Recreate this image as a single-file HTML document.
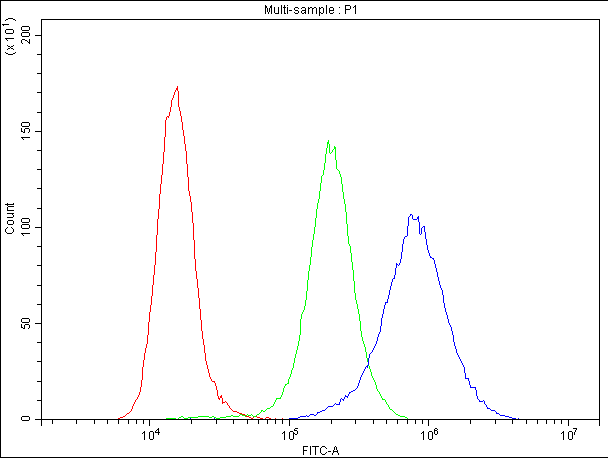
<!DOCTYPE html>
<html><head><meta charset="utf-8"><style>
html,body{margin:0;padding:0;background:#fff;width:608px;height:458px;overflow:hidden}
svg{position:absolute;left:0;top:0;display:block}
</style></head><body>
<svg width="608" height="458" viewBox="0 0 608 458">
<g shape-rendering="crispEdges">
<path fill="#ff0000" d="M177 86h1v1h-1zM177 87h1v1h-1zM176 88h2v1h-2zM176 89h2v1h-2zM175 90h1v1h-1zM177 90h1v1h-1zM175 91h1v1h-1zM178 91h1v1h-1zM174 92h1v1h-1zM178 92h1v1h-1zM174 93h1v1h-1zM178 93h1v1h-1zM174 94h1v1h-1zM178 94h1v1h-1zM173 95h1v1h-1zM178 95h1v1h-1zM173 96h1v1h-1zM178 96h1v1h-1zM173 97h1v1h-1zM178 97h1v1h-1zM172 98h1v1h-1zM178 98h1v1h-1zM172 99h1v1h-1zM178 99h1v1h-1zM171 100h1v1h-1zM178 100h1v1h-1zM171 101h1v1h-1zM178 101h1v1h-1zM171 102h1v1h-1zM178 102h1v1h-1zM171 103h1v1h-1zM178 103h1v1h-1zM171 104h1v1h-1zM178 104h1v1h-1zM171 105h1v1h-1zM178 105h1v1h-1zM171 106h1v1h-1zM178 106h1v1h-1zM170 107h1v1h-1zM179 107h1v1h-1zM170 108h1v1h-1zM179 108h1v1h-1zM170 109h1v1h-1zM179 109h1v1h-1zM170 110h1v1h-1zM179 110h1v1h-1zM170 111h1v1h-1zM180 111h1v1h-1zM169 112h1v1h-1zM180 112h1v1h-1zM169 113h1v1h-1zM180 113h1v1h-1zM169 114h1v1h-1zM180 114h1v1h-1zM169 115h1v1h-1zM180 115h1v1h-1zM167 116h2v1h-2zM181 116h1v1h-1zM166 117h1v1h-1zM168 117h1v1h-1zM181 117h1v1h-1zM166 118h1v1h-1zM181 118h1v1h-1zM166 119h1v1h-1zM181 119h1v1h-1zM165 120h1v1h-1zM181 120h1v1h-1zM165 121h1v1h-1zM181 121h1v1h-1zM165 122h1v1h-1zM182 122h1v1h-1zM165 123h1v1h-1zM182 123h1v1h-1zM165 124h1v1h-1zM182 124h1v1h-1zM165 125h1v1h-1zM182 125h1v1h-1zM165 126h1v1h-1zM182 126h1v1h-1zM165 127h1v1h-1zM182 127h1v1h-1zM165 128h1v1h-1zM182 128h1v1h-1zM165 129h1v1h-1zM182 129h1v1h-1zM165 130h1v1h-1zM183 130h1v1h-1zM165 131h1v1h-1zM183 131h1v1h-1zM165 132h1v1h-1zM183 132h1v1h-1zM165 133h1v1h-1zM183 133h1v1h-1zM165 134h1v1h-1zM183 134h1v1h-1zM165 135h1v1h-1zM183 135h1v1h-1zM165 136h1v1h-1zM184 136h1v1h-1zM164 137h1v1h-1zM184 137h1v1h-1zM164 138h1v1h-1zM184 138h1v1h-1zM164 139h1v1h-1zM184 139h1v1h-1zM164 140h1v1h-1zM184 140h1v1h-1zM164 141h1v1h-1zM184 141h1v1h-1zM164 142h1v1h-1zM184 142h1v1h-1zM164 143h1v1h-1zM184 143h1v1h-1zM164 144h1v1h-1zM185 144h1v1h-1zM164 145h1v1h-1zM185 145h1v1h-1zM164 146h1v1h-1zM185 146h1v1h-1zM164 147h1v1h-1zM185 147h1v1h-1zM164 148h1v1h-1zM185 148h1v1h-1zM164 149h1v1h-1zM185 149h1v1h-1zM164 150h1v1h-1zM185 150h1v1h-1zM164 151h1v1h-1zM186 151h1v1h-1zM163 152h1v1h-1zM186 152h1v1h-1zM163 153h1v1h-1zM186 153h1v1h-1zM163 154h1v1h-1zM186 154h1v1h-1zM163 155h1v1h-1zM186 155h1v1h-1zM163 156h1v1h-1zM186 156h1v1h-1zM163 157h1v1h-1zM186 157h1v1h-1zM163 158h1v1h-1zM186 158h1v1h-1zM163 159h1v1h-1zM186 159h1v1h-1zM163 160h1v1h-1zM186 160h1v1h-1zM163 161h1v1h-1zM186 161h1v1h-1zM163 162h1v1h-1zM186 162h1v1h-1zM163 163h1v1h-1zM186 163h1v1h-1zM162 164h1v1h-1zM187 164h1v1h-1zM162 165h1v1h-1zM187 165h1v1h-1zM162 166h1v1h-1zM187 166h1v1h-1zM162 167h1v1h-1zM187 167h1v1h-1zM162 168h1v1h-1zM187 168h1v1h-1zM162 169h1v1h-1zM187 169h1v1h-1zM162 170h1v1h-1zM187 170h1v1h-1zM162 171h1v1h-1zM187 171h1v1h-1zM162 172h1v1h-1zM187 172h1v1h-1zM162 173h1v1h-1zM187 173h1v1h-1zM162 174h1v1h-1zM187 174h1v1h-1zM161 175h1v1h-1zM187 175h1v1h-1zM161 176h1v1h-1zM187 176h1v1h-1zM161 177h1v1h-1zM188 177h1v1h-1zM161 178h1v1h-1zM188 178h1v1h-1zM161 179h1v1h-1zM188 179h1v1h-1zM161 180h1v1h-1zM188 180h1v1h-1zM161 181h1v1h-1zM188 181h1v1h-1zM161 182h1v1h-1zM188 182h1v1h-1zM161 183h1v1h-1zM188 183h1v1h-1zM160 184h1v1h-1zM188 184h1v1h-1zM160 185h1v1h-1zM188 185h1v1h-1zM160 186h1v1h-1zM188 186h1v1h-1zM160 187h1v1h-1zM188 187h1v1h-1zM160 188h1v1h-1zM188 188h1v1h-1zM160 189h1v1h-1zM188 189h1v1h-1zM160 190h1v1h-1zM188 190h1v1h-1zM160 191h1v1h-1zM189 191h1v1h-1zM160 192h1v1h-1zM189 192h1v1h-1zM160 193h1v1h-1zM189 193h1v1h-1zM159 194h1v1h-1zM189 194h1v1h-1zM159 195h1v1h-1zM189 195h1v1h-1zM159 196h1v1h-1zM190 196h1v1h-1zM159 197h1v1h-1zM190 197h1v1h-1zM159 198h1v1h-1zM190 198h1v1h-1zM159 199h1v1h-1zM190 199h1v1h-1zM159 200h1v1h-1zM190 200h1v1h-1zM159 201h1v1h-1zM190 201h1v1h-1zM159 202h1v1h-1zM191 202h1v1h-1zM159 203h1v1h-1zM191 203h1v1h-1zM159 204h1v1h-1zM191 204h1v1h-1zM159 205h1v1h-1zM191 205h1v1h-1zM159 206h1v1h-1zM191 206h1v1h-1zM159 207h1v1h-1zM191 207h1v1h-1zM159 208h1v1h-1zM191 208h1v1h-1zM158 209h1v1h-1zM191 209h1v1h-1zM158 210h1v1h-1zM191 210h1v1h-1zM158 211h1v1h-1zM191 211h1v1h-1zM158 212h1v1h-1zM192 212h1v1h-1zM158 213h1v1h-1zM192 213h1v1h-1zM158 214h1v1h-1zM192 214h1v1h-1zM158 215h1v1h-1zM192 215h1v1h-1zM158 216h1v1h-1zM192 216h1v1h-1zM158 217h1v1h-1zM192 217h1v1h-1zM158 218h1v1h-1zM192 218h1v1h-1zM157 219h1v1h-1zM192 219h1v1h-1zM157 220h1v1h-1zM192 220h1v1h-1zM157 221h1v1h-1zM192 221h1v1h-1zM157 222h1v1h-1zM192 222h1v1h-1zM157 223h1v1h-1zM193 223h1v1h-1zM157 224h1v1h-1zM193 224h1v1h-1zM157 225h1v1h-1zM193 225h1v1h-1zM157 226h1v1h-1zM193 226h1v1h-1zM157 227h1v1h-1zM193 227h1v1h-1zM157 228h1v1h-1zM193 228h1v1h-1zM157 229h1v1h-1zM193 229h1v1h-1zM157 230h1v1h-1zM193 230h1v1h-1zM157 231h1v1h-1zM193 231h1v1h-1zM157 232h1v1h-1zM193 232h1v1h-1zM157 233h1v1h-1zM193 233h1v1h-1zM157 234h1v1h-1zM193 234h1v1h-1zM156 235h1v1h-1zM193 235h1v1h-1zM156 236h1v1h-1zM193 236h1v1h-1zM156 237h1v1h-1zM193 237h1v1h-1zM156 238h1v1h-1zM193 238h1v1h-1zM156 239h1v1h-1zM193 239h1v1h-1zM156 240h1v1h-1zM194 240h1v1h-1zM156 241h1v1h-1zM194 241h1v1h-1zM156 242h1v1h-1zM194 242h1v1h-1zM156 243h1v1h-1zM194 243h1v1h-1zM156 244h1v1h-1zM194 244h1v1h-1zM156 245h1v1h-1zM194 245h1v1h-1zM156 246h1v1h-1zM194 246h1v1h-1zM156 247h1v1h-1zM194 247h1v1h-1zM156 248h1v1h-1zM194 248h1v1h-1zM156 249h1v1h-1zM194 249h1v1h-1zM156 250h1v1h-1zM194 250h1v1h-1zM156 251h1v1h-1zM194 251h1v1h-1zM155 252h1v1h-1zM194 252h1v1h-1zM155 253h1v1h-1zM194 253h1v1h-1zM155 254h1v1h-1zM194 254h1v1h-1zM155 255h1v1h-1zM194 255h1v1h-1zM155 256h1v1h-1zM194 256h1v1h-1zM155 257h1v1h-1zM194 257h1v1h-1zM155 258h1v1h-1zM194 258h1v1h-1zM155 259h1v1h-1zM195 259h1v1h-1zM155 260h1v1h-1zM195 260h1v1h-1zM155 261h1v1h-1zM195 261h1v1h-1zM155 262h1v1h-1zM195 262h1v1h-1zM155 263h1v1h-1zM195 263h1v1h-1zM155 264h1v1h-1zM195 264h1v1h-1zM154 265h1v1h-1zM195 265h1v1h-1zM154 266h1v1h-1zM195 266h1v1h-1zM154 267h1v1h-1zM195 267h1v1h-1zM154 268h1v1h-1zM195 268h1v1h-1zM154 269h1v1h-1zM195 269h1v1h-1zM154 270h1v1h-1zM195 270h1v1h-1zM154 271h1v1h-1zM196 271h1v1h-1zM154 272h1v1h-1zM196 272h1v1h-1zM154 273h1v1h-1zM196 273h1v1h-1zM154 274h1v1h-1zM196 274h1v1h-1zM153 275h1v1h-1zM196 275h1v1h-1zM153 276h1v1h-1zM196 276h1v1h-1zM153 277h1v1h-1zM196 277h1v1h-1zM153 278h1v1h-1zM196 278h1v1h-1zM153 279h1v1h-1zM197 279h1v1h-1zM153 280h1v1h-1zM197 280h1v1h-1zM153 281h1v1h-1zM197 281h1v1h-1zM153 282h1v1h-1zM197 282h1v1h-1zM153 283h1v1h-1zM197 283h1v1h-1zM153 284h1v1h-1zM197 284h1v1h-1zM152 285h1v1h-1zM197 285h1v1h-1zM152 286h1v1h-1zM197 286h1v1h-1zM152 287h1v1h-1zM197 287h1v1h-1zM152 288h1v1h-1zM198 288h1v1h-1zM152 289h1v1h-1zM198 289h1v1h-1zM152 290h1v1h-1zM198 290h1v1h-1zM152 291h1v1h-1zM198 291h1v1h-1zM152 292h1v1h-1zM198 292h1v1h-1zM152 293h1v1h-1zM198 293h1v1h-1zM152 294h1v1h-1zM198 294h1v1h-1zM152 295h1v1h-1zM198 295h1v1h-1zM151 296h1v1h-1zM198 296h1v1h-1zM151 297h1v1h-1zM198 297h1v1h-1zM151 298h1v1h-1zM199 298h1v1h-1zM151 299h1v1h-1zM199 299h1v1h-1zM151 300h1v1h-1zM199 300h1v1h-1zM151 301h1v1h-1zM199 301h1v1h-1zM151 302h1v1h-1zM199 302h1v1h-1zM151 303h1v1h-1zM199 303h1v1h-1zM151 304h1v1h-1zM199 304h1v1h-1zM150 305h1v1h-1zM199 305h1v1h-1zM150 306h1v1h-1zM199 306h1v1h-1zM150 307h1v1h-1zM199 307h1v1h-1zM150 308h1v1h-1zM199 308h1v1h-1zM150 309h1v1h-1zM200 309h1v1h-1zM150 310h1v1h-1zM200 310h1v1h-1zM150 311h1v1h-1zM200 311h1v1h-1zM149 312h1v1h-1zM200 312h1v1h-1zM149 313h1v1h-1zM200 313h1v1h-1zM149 314h1v1h-1zM200 314h1v1h-1zM149 315h1v1h-1zM200 315h1v1h-1zM149 316h1v1h-1zM200 316h1v1h-1zM149 317h1v1h-1zM200 317h1v1h-1zM149 318h1v1h-1zM200 318h1v1h-1zM149 319h1v1h-1zM200 319h1v1h-1zM149 320h1v1h-1zM201 320h1v1h-1zM149 321h1v1h-1zM201 321h1v1h-1zM148 322h1v1h-1zM201 322h1v1h-1zM148 323h1v1h-1zM201 323h1v1h-1zM148 324h1v1h-1zM201 324h1v1h-1zM148 325h1v1h-1zM201 325h1v1h-1zM148 326h1v1h-1zM201 326h1v1h-1zM148 327h1v1h-1zM201 327h1v1h-1zM148 328h1v1h-1zM201 328h1v1h-1zM148 329h1v1h-1zM201 329h1v1h-1zM148 330h1v1h-1zM201 330h1v1h-1zM148 331h1v1h-1zM202 331h1v1h-1zM148 332h1v1h-1zM202 332h1v1h-1zM148 333h1v1h-1zM202 333h1v1h-1zM148 334h1v1h-1zM202 334h1v1h-1zM147 335h1v1h-1zM202 335h1v1h-1zM147 336h1v1h-1zM202 336h1v1h-1zM147 337h1v1h-1zM202 337h1v1h-1zM147 338h1v1h-1zM202 338h1v1h-1zM147 339h1v1h-1zM203 339h1v1h-1zM147 340h1v1h-1zM203 340h1v1h-1zM147 341h1v1h-1zM203 341h1v1h-1zM147 342h1v1h-1zM203 342h1v1h-1zM147 343h1v1h-1zM203 343h1v1h-1zM146 344h1v1h-1zM203 344h1v1h-1zM146 345h1v1h-1zM204 345h1v1h-1zM146 346h1v1h-1zM204 346h1v1h-1zM146 347h1v1h-1zM204 347h1v1h-1zM145 348h1v1h-1zM204 348h1v1h-1zM145 349h1v1h-1zM204 349h1v1h-1zM145 350h1v1h-1zM204 350h1v1h-1zM145 351h1v1h-1zM204 351h1v1h-1zM145 352h1v1h-1zM204 352h1v1h-1zM144 353h1v1h-1zM205 353h1v1h-1zM144 354h1v1h-1zM205 354h1v1h-1zM144 355h1v1h-1zM205 355h1v1h-1zM144 356h1v1h-1zM205 356h1v1h-1zM144 357h1v1h-1zM205 357h1v1h-1zM144 358h1v1h-1zM205 358h1v1h-1zM144 359h1v1h-1zM205 359h1v1h-1zM143 360h1v1h-1zM205 360h1v1h-1zM143 361h1v1h-1zM206 361h1v1h-1zM143 362h1v1h-1zM206 362h1v1h-1zM143 363h1v1h-1zM206 363h1v1h-1zM143 364h1v1h-1zM206 364h1v1h-1zM143 365h1v1h-1zM207 365h1v1h-1zM143 366h1v1h-1zM207 366h1v1h-1zM142 367h1v1h-1zM207 367h1v1h-1zM142 368h1v1h-1zM207 368h1v1h-1zM142 369h1v1h-1zM208 369h1v1h-1zM142 370h1v1h-1zM208 370h1v1h-1zM142 371h1v1h-1zM208 371h1v1h-1zM142 372h1v1h-1zM208 372h1v1h-1zM142 373h1v1h-1zM209 373h1v1h-1zM142 374h1v1h-1zM209 374h1v1h-1zM142 375h1v1h-1zM209 375h1v1h-1zM142 376h1v1h-1zM209 376h1v1h-1zM142 377h1v1h-1zM210 377h1v1h-1zM142 378h1v1h-1zM210 378h1v1h-1zM142 379h1v1h-1zM211 379h1v1h-1zM141 380h1v1h-1zM211 380h1v1h-1zM141 381h1v1h-1zM212 381h3v1h-3zM141 382h1v1h-1zM214 382h1v1h-1zM141 383h1v1h-1zM215 383h1v1h-1zM141 384h1v1h-1zM215 384h1v1h-1zM141 385h1v1h-1zM215 385h1v1h-1zM141 386h1v1h-1zM216 386h1v1h-1zM140 387h1v1h-1zM216 387h1v1h-1zM140 388h1v1h-1zM216 388h1v1h-1zM140 389h1v1h-1zM216 389h1v1h-1zM140 390h1v1h-1zM217 390h1v1h-1zM140 391h1v1h-1zM217 391h1v1h-1zM139 392h1v1h-1zM217 392h1v1h-1zM139 393h1v1h-1zM217 393h1v1h-1zM139 394h1v1h-1zM217 394h1v1h-1zM138 395h1v1h-1zM217 395h1v1h-1zM221 395h1v1h-1zM138 396h1v1h-1zM218 396h1v1h-1zM220 396h2v1h-2zM137 397h1v1h-1zM218 397h1v1h-1zM220 397h2v1h-2zM137 398h1v1h-1zM218 398h2v1h-2zM222 398h1v1h-1zM136 399h1v1h-1zM219 399h1v1h-1zM222 399h1v1h-1zM135 400h1v1h-1zM222 400h1v1h-1zM135 401h1v1h-1zM222 401h1v1h-1zM225 401h1v1h-1zM134 402h1v1h-1zM222 402h3v1h-3zM226 402h1v1h-1zM134 403h1v1h-1zM222 403h1v1h-1zM227 403h1v1h-1zM133 404h1v1h-1zM227 404h1v1h-1zM133 405h1v1h-1zM228 405h1v1h-1zM132 406h1v1h-1zM229 406h1v1h-1zM132 407h1v1h-1zM229 407h1v1h-1zM132 408h1v1h-1zM230 408h1v1h-1zM131 409h1v1h-1zM231 409h1v1h-1zM131 410h1v1h-1zM232 410h1v1h-1zM130 411h1v1h-1zM233 411h4v1h-4zM129 412h1v1h-1zM237 412h2v1h-2zM127 413h2v1h-2zM239 413h3v1h-3zM126 414h1v1h-1zM242 414h3v1h-3zM125 415h1v1h-1zM245 415h1v1h-1zM123 416h2v1h-2zM246 416h3v1h-3zM254 416h3v1h-3zM120 417h3v1h-3zM249 417h2v1h-2zM253 417h1v1h-1zM257 417h3v1h-3zM266 417h3v1h-3zM118 418h2v1h-2zM251 418h2v1h-2zM260 418h3v1h-3zM265 418h1v1h-1zM269 418h2v1h-2zM112 419h6v1h-6zM263 419h2v1h-2zM271 419h20v1h-20z"/>
<path fill="#00ff00" d="M328 140h1v1h-1zM328 141h1v1h-1zM327 142h2v1h-2zM327 143h2v1h-2zM327 144h1v1h-1zM329 144h1v1h-1zM327 145h1v1h-1zM329 145h1v1h-1zM327 146h1v1h-1zM329 146h1v1h-1zM334 146h1v1h-1zM327 147h1v1h-1zM329 147h1v1h-1zM334 147h2v1h-2zM326 148h1v1h-1zM329 148h1v1h-1zM334 148h2v1h-2zM326 149h1v1h-1zM329 149h1v1h-1zM333 149h1v1h-1zM335 149h1v1h-1zM326 150h1v1h-1zM329 150h1v1h-1zM332 150h1v1h-1zM335 150h1v1h-1zM326 151h1v1h-1zM329 151h1v1h-1zM332 151h1v1h-1zM335 151h1v1h-1zM326 152h1v1h-1zM329 152h1v1h-1zM331 152h1v1h-1zM335 152h1v1h-1zM326 153h1v1h-1zM330 153h1v1h-1zM335 153h1v1h-1zM325 154h1v1h-1zM335 154h1v1h-1zM325 155h1v1h-1zM335 155h1v1h-1zM325 156h1v1h-1zM335 156h1v1h-1zM325 157h1v1h-1zM335 157h1v1h-1zM325 158h1v1h-1zM335 158h1v1h-1zM325 159h1v1h-1zM335 159h1v1h-1zM325 160h1v1h-1zM336 160h1v1h-1zM325 161h1v1h-1zM336 161h1v1h-1zM325 162h1v1h-1zM336 162h1v1h-1zM324 163h1v1h-1zM336 163h1v1h-1zM324 164h1v1h-1zM336 164h1v1h-1zM324 165h1v1h-1zM336 165h1v1h-1zM324 166h1v1h-1zM336 166h1v1h-1zM324 167h1v1h-1zM336 167h1v1h-1zM324 168h1v1h-1zM336 168h1v1h-1zM324 169h1v1h-1zM337 169h1v1h-1zM323 170h1v1h-1zM338 170h1v1h-1zM323 171h1v1h-1zM339 171h1v1h-1zM323 172h1v1h-1zM339 172h1v1h-1zM323 173h1v1h-1zM339 173h1v1h-1zM323 174h1v1h-1zM340 174h1v1h-1zM322 175h1v1h-1zM340 175h1v1h-1zM321 176h1v1h-1zM340 176h1v1h-1zM321 177h1v1h-1zM341 177h1v1h-1zM321 178h1v1h-1zM341 178h1v1h-1zM321 179h1v1h-1zM341 179h1v1h-1zM321 180h1v1h-1zM341 180h1v1h-1zM321 181h1v1h-1zM341 181h1v1h-1zM321 182h1v1h-1zM341 182h1v1h-1zM320 183h1v1h-1zM341 183h1v1h-1zM320 184h1v1h-1zM342 184h1v1h-1zM320 185h1v1h-1zM342 185h1v1h-1zM320 186h1v1h-1zM342 186h1v1h-1zM320 187h1v1h-1zM342 187h1v1h-1zM320 188h1v1h-1zM342 188h1v1h-1zM320 189h1v1h-1zM342 189h1v1h-1zM320 190h1v1h-1zM342 190h1v1h-1zM319 191h1v1h-1zM342 191h1v1h-1zM319 192h1v1h-1zM343 192h1v1h-1zM319 193h1v1h-1zM343 193h1v1h-1zM319 194h1v1h-1zM343 194h1v1h-1zM319 195h1v1h-1zM343 195h1v1h-1zM319 196h1v1h-1zM343 196h1v1h-1zM319 197h1v1h-1zM343 197h1v1h-1zM319 198h1v1h-1zM343 198h1v1h-1zM318 199h1v1h-1zM344 199h1v1h-1zM318 200h1v1h-1zM344 200h1v1h-1zM318 201h1v1h-1zM344 201h1v1h-1zM318 202h1v1h-1zM344 202h1v1h-1zM317 203h1v1h-1zM344 203h1v1h-1zM317 204h1v1h-1zM345 204h1v1h-1zM317 205h1v1h-1zM345 205h1v1h-1zM317 206h1v1h-1zM345 206h1v1h-1zM317 207h1v1h-1zM345 207h1v1h-1zM317 208h1v1h-1zM345 208h1v1h-1zM316 209h1v1h-1zM345 209h1v1h-1zM316 210h1v1h-1zM345 210h1v1h-1zM316 211h1v1h-1zM345 211h1v1h-1zM316 212h1v1h-1zM346 212h1v1h-1zM316 213h1v1h-1zM346 213h1v1h-1zM316 214h1v1h-1zM346 214h1v1h-1zM316 215h1v1h-1zM346 215h1v1h-1zM316 216h1v1h-1zM346 216h1v1h-1zM316 217h1v1h-1zM346 217h1v1h-1zM315 218h1v1h-1zM346 218h1v1h-1zM315 219h1v1h-1zM346 219h1v1h-1zM315 220h1v1h-1zM346 220h1v1h-1zM315 221h1v1h-1zM346 221h1v1h-1zM315 222h1v1h-1zM346 222h1v1h-1zM315 223h1v1h-1zM346 223h1v1h-1zM315 224h1v1h-1zM347 224h1v1h-1zM315 225h1v1h-1zM347 225h1v1h-1zM315 226h1v1h-1zM347 226h1v1h-1zM314 227h1v1h-1zM347 227h1v1h-1zM314 228h1v1h-1zM347 228h1v1h-1zM314 229h1v1h-1zM347 229h1v1h-1zM314 230h1v1h-1zM347 230h1v1h-1zM314 231h1v1h-1zM347 231h1v1h-1zM314 232h1v1h-1zM347 232h1v1h-1zM314 233h1v1h-1zM347 233h1v1h-1zM313 234h1v1h-1zM347 234h1v1h-1zM313 235h1v1h-1zM347 235h1v1h-1zM313 236h1v1h-1zM348 236h1v1h-1zM313 237h1v1h-1zM348 237h1v1h-1zM313 238h1v1h-1zM348 238h1v1h-1zM313 239h1v1h-1zM348 239h1v1h-1zM312 240h1v1h-1zM348 240h1v1h-1zM312 241h1v1h-1zM348 241h1v1h-1zM312 242h1v1h-1zM348 242h1v1h-1zM312 243h1v1h-1zM348 243h1v1h-1zM312 244h1v1h-1zM349 244h1v1h-1zM312 245h1v1h-1zM349 245h1v1h-1zM312 246h1v1h-1zM350 246h1v1h-1zM311 247h1v1h-1zM350 247h1v1h-1zM311 248h1v1h-1zM350 248h1v1h-1zM311 249h1v1h-1zM350 249h1v1h-1zM311 250h1v1h-1zM350 250h1v1h-1zM311 251h1v1h-1zM350 251h1v1h-1zM311 252h1v1h-1zM350 252h1v1h-1zM311 253h1v1h-1zM351 253h1v1h-1zM311 254h1v1h-1zM351 254h1v1h-1zM311 255h1v1h-1zM351 255h1v1h-1zM311 256h1v1h-1zM351 256h1v1h-1zM310 257h1v1h-1zM351 257h1v1h-1zM310 258h1v1h-1zM351 258h1v1h-1zM310 259h1v1h-1zM351 259h1v1h-1zM310 260h1v1h-1zM351 260h1v1h-1zM310 261h1v1h-1zM351 261h1v1h-1zM310 262h1v1h-1zM352 262h1v1h-1zM310 263h1v1h-1zM352 263h1v1h-1zM310 264h1v1h-1zM352 264h1v1h-1zM309 265h1v1h-1zM352 265h1v1h-1zM309 266h1v1h-1zM352 266h1v1h-1zM309 267h1v1h-1zM352 267h1v1h-1zM309 268h1v1h-1zM352 268h1v1h-1zM309 269h1v1h-1zM352 269h1v1h-1zM309 270h1v1h-1zM353 270h1v1h-1zM308 271h1v1h-1zM353 271h1v1h-1zM308 272h1v1h-1zM353 272h1v1h-1zM308 273h1v1h-1zM353 273h1v1h-1zM308 274h1v1h-1zM353 274h1v1h-1zM308 275h1v1h-1zM353 275h1v1h-1zM308 276h1v1h-1zM353 276h1v1h-1zM308 277h1v1h-1zM353 277h1v1h-1zM308 278h1v1h-1zM353 278h1v1h-1zM308 279h1v1h-1zM353 279h1v1h-1zM307 280h1v1h-1zM353 280h1v1h-1zM307 281h1v1h-1zM354 281h1v1h-1zM307 282h1v1h-1zM354 282h1v1h-1zM307 283h1v1h-1zM354 283h1v1h-1zM307 284h1v1h-1zM354 284h1v1h-1zM307 285h1v1h-1zM354 285h1v1h-1zM307 286h1v1h-1zM354 286h1v1h-1zM307 287h1v1h-1zM354 287h1v1h-1zM307 288h1v1h-1zM354 288h1v1h-1zM307 289h1v1h-1zM354 289h1v1h-1zM307 290h1v1h-1zM354 290h1v1h-1zM306 291h1v1h-1zM354 291h1v1h-1zM306 292h1v1h-1zM354 292h1v1h-1zM306 293h1v1h-1zM355 293h1v1h-1zM306 294h1v1h-1zM355 294h1v1h-1zM306 295h1v1h-1zM355 295h1v1h-1zM306 296h1v1h-1zM355 296h1v1h-1zM306 297h1v1h-1zM355 297h1v1h-1zM306 298h1v1h-1zM355 298h1v1h-1zM306 299h1v1h-1zM355 299h1v1h-1zM305 300h1v1h-1zM356 300h1v1h-1zM305 301h1v1h-1zM356 301h1v1h-1zM305 302h1v1h-1zM356 302h1v1h-1zM305 303h1v1h-1zM356 303h1v1h-1zM305 304h1v1h-1zM357 304h1v1h-1zM305 305h1v1h-1zM357 305h1v1h-1zM304 306h1v1h-1zM357 306h1v1h-1zM304 307h1v1h-1zM357 307h1v1h-1zM304 308h1v1h-1zM357 308h1v1h-1zM304 309h1v1h-1zM358 309h1v1h-1zM303 310h1v1h-1zM358 310h1v1h-1zM303 311h1v1h-1zM358 311h1v1h-1zM302 312h1v1h-1zM358 312h1v1h-1zM302 313h1v1h-1zM358 313h1v1h-1zM301 314h1v1h-1zM359 314h1v1h-1zM301 315h1v1h-1zM359 315h1v1h-1zM301 316h1v1h-1zM359 316h1v1h-1zM301 317h1v1h-1zM359 317h1v1h-1zM301 318h1v1h-1zM359 318h1v1h-1zM300 319h1v1h-1zM359 319h1v1h-1zM300 320h1v1h-1zM359 320h1v1h-1zM300 321h1v1h-1zM360 321h1v1h-1zM300 322h1v1h-1zM360 322h1v1h-1zM300 323h1v1h-1zM360 323h1v1h-1zM300 324h1v1h-1zM360 324h1v1h-1zM300 325h1v1h-1zM360 325h1v1h-1zM300 326h1v1h-1zM360 326h1v1h-1zM300 327h1v1h-1zM360 327h1v1h-1zM300 328h1v1h-1zM360 328h1v1h-1zM300 329h1v1h-1zM360 329h1v1h-1zM300 330h1v1h-1zM360 330h1v1h-1zM300 331h1v1h-1zM361 331h1v1h-1zM300 332h1v1h-1zM361 332h1v1h-1zM300 333h1v1h-1zM361 333h1v1h-1zM300 334h1v1h-1zM361 334h1v1h-1zM299 335h1v1h-1zM361 335h1v1h-1zM299 336h1v1h-1zM361 336h1v1h-1zM299 337h1v1h-1zM362 337h1v1h-1zM299 338h1v1h-1zM362 338h1v1h-1zM299 339h1v1h-1zM362 339h1v1h-1zM299 340h1v1h-1zM362 340h1v1h-1zM298 341h1v1h-1zM363 341h1v1h-1zM298 342h1v1h-1zM363 342h1v1h-1zM298 343h1v1h-1zM363 343h1v1h-1zM298 344h1v1h-1zM364 344h1v1h-1zM298 345h1v1h-1zM364 345h1v1h-1zM297 346h1v1h-1zM364 346h1v1h-1zM297 347h1v1h-1zM365 347h1v1h-1zM297 348h1v1h-1zM365 348h1v1h-1zM297 349h1v1h-1zM365 349h1v1h-1zM296 350h1v1h-1zM365 350h1v1h-1zM296 351h1v1h-1zM365 351h1v1h-1zM296 352h1v1h-1zM366 352h1v1h-1zM296 353h1v1h-1zM366 353h1v1h-1zM295 354h1v1h-1zM366 354h1v1h-1zM295 355h1v1h-1zM366 355h1v1h-1zM295 356h1v1h-1zM366 356h1v1h-1zM295 357h1v1h-1zM366 357h1v1h-1zM294 358h1v1h-1zM367 358h1v1h-1zM294 359h1v1h-1zM367 359h1v1h-1zM294 360h1v1h-1zM367 360h1v1h-1zM294 361h1v1h-1zM367 361h1v1h-1zM294 362h1v1h-1zM368 362h1v1h-1zM293 363h1v1h-1zM368 363h1v1h-1zM293 364h1v1h-1zM368 364h1v1h-1zM293 365h1v1h-1zM368 365h1v1h-1zM293 366h1v1h-1zM369 366h1v1h-1zM293 367h1v1h-1zM369 367h1v1h-1zM292 368h1v1h-1zM369 368h1v1h-1zM292 369h1v1h-1zM370 369h1v1h-1zM291 370h1v1h-1zM370 370h1v1h-1zM291 371h1v1h-1zM370 371h1v1h-1zM291 372h1v1h-1zM371 372h1v1h-1zM291 373h1v1h-1zM371 373h1v1h-1zM290 374h1v1h-1zM371 374h1v1h-1zM290 375h1v1h-1zM371 375h1v1h-1zM290 376h1v1h-1zM372 376h1v1h-1zM289 377h1v1h-1zM372 377h1v1h-1zM289 378h1v1h-1zM373 378h1v1h-1zM288 379h1v1h-1zM373 379h1v1h-1zM288 380h1v1h-1zM374 380h1v1h-1zM288 381h1v1h-1zM374 381h1v1h-1zM288 382h1v1h-1zM375 382h1v1h-1zM287 383h2v1h-2zM375 383h1v1h-1zM285 384h2v1h-2zM375 384h1v1h-1zM285 385h1v1h-1zM376 385h1v1h-1zM284 386h1v1h-1zM376 386h1v1h-1zM284 387h1v1h-1zM376 387h1v1h-1zM283 388h1v1h-1zM376 388h1v1h-1zM283 389h1v1h-1zM377 389h1v1h-1zM283 390h1v1h-1zM377 390h1v1h-1zM283 391h1v1h-1zM378 391h1v1h-1zM282 392h1v1h-1zM379 392h1v1h-1zM282 393h1v1h-1zM379 393h1v1h-1zM282 394h1v1h-1zM380 394h1v1h-1zM281 395h1v1h-1zM380 395h1v1h-1zM281 396h1v1h-1zM381 396h1v1h-1zM280 397h1v1h-1zM381 397h1v1h-1zM276 398h5v1h-5zM382 398h1v1h-1zM276 399h1v1h-1zM382 399h3v1h-3zM275 400h1v1h-1zM385 400h1v1h-1zM275 401h1v1h-1zM385 401h1v1h-1zM274 402h1v1h-1zM386 402h1v1h-1zM274 403h1v1h-1zM386 403h1v1h-1zM273 404h1v1h-1zM387 404h1v1h-1zM273 405h1v1h-1zM388 405h1v1h-1zM271 406h2v1h-2zM388 406h1v1h-1zM270 407h1v1h-1zM389 407h1v1h-1zM267 408h3v1h-3zM389 408h1v1h-1zM266 409h1v1h-1zM390 409h2v1h-2zM261 410h2v1h-2zM265 410h1v1h-1zM392 410h1v1h-1zM261 411h1v1h-1zM263 411h2v1h-2zM393 411h1v1h-1zM260 412h1v1h-1zM394 412h1v1h-1zM259 413h1v1h-1zM395 413h1v1h-1zM240 414h2v1h-2zM247 414h1v1h-1zM251 414h1v1h-1zM257 414h2v1h-2zM396 414h2v1h-2zM231 415h2v1h-2zM239 415h1v1h-1zM242 415h3v1h-3zM246 415h1v1h-1zM248 415h3v1h-3zM252 415h1v1h-1zM256 415h1v1h-1zM398 415h2v1h-2zM181 416h2v1h-2zM198 416h11v1h-11zM212 416h2v1h-2zM226 416h5v1h-5zM233 416h6v1h-6zM245 416h1v1h-1zM253 416h3v1h-3zM400 416h5v1h-5zM179 417h2v1h-2zM183 417h1v1h-1zM188 417h10v1h-10zM209 417h3v1h-3zM214 417h2v1h-2zM220 417h6v1h-6zM405 417h2v1h-2zM166 418h10v1h-10zM178 418h1v1h-1zM184 418h4v1h-4zM216 418h4v1h-4zM407 418h1v1h-1zM165 419h1v1h-1zM176 419h2v1h-2zM408 419h13v1h-13z"/>
<path fill="#0000ff" d="M410 214h2v1h-2zM410 215h1v1h-1zM412 215h1v1h-1zM409 216h1v1h-1zM412 216h1v1h-1zM418 216h1v1h-1zM408 217h1v1h-1zM412 217h1v1h-1zM417 217h2v1h-2zM408 218h1v1h-1zM412 218h1v1h-1zM417 218h2v1h-2zM408 219h1v1h-1zM413 219h4v1h-4zM418 219h1v1h-1zM408 220h1v1h-1zM418 220h1v1h-1zM408 221h1v1h-1zM418 221h1v1h-1zM408 222h1v1h-1zM419 222h1v1h-1zM408 223h1v1h-1zM419 223h1v1h-1zM408 224h1v1h-1zM419 224h1v1h-1zM408 225h1v1h-1zM419 225h1v1h-1zM407 226h1v1h-1zM419 226h1v1h-1zM423 226h2v1h-2zM407 227h1v1h-1zM419 227h1v1h-1zM422 227h1v1h-1zM424 227h1v1h-1zM407 228h1v1h-1zM419 228h1v1h-1zM421 228h1v1h-1zM424 228h1v1h-1zM407 229h1v1h-1zM419 229h1v1h-1zM421 229h1v1h-1zM424 229h1v1h-1zM407 230h1v1h-1zM419 230h1v1h-1zM421 230h1v1h-1zM424 230h1v1h-1zM407 231h1v1h-1zM419 231h1v1h-1zM421 231h1v1h-1zM424 231h1v1h-1zM407 232h1v1h-1zM419 232h1v1h-1zM421 232h1v1h-1zM425 232h1v1h-1zM407 233h1v1h-1zM419 233h1v1h-1zM421 233h1v1h-1zM425 233h1v1h-1zM407 234h1v1h-1zM420 234h1v1h-1zM425 234h1v1h-1zM407 235h1v1h-1zM425 235h1v1h-1zM405 236h2v1h-2zM425 236h1v1h-1zM404 237h1v1h-1zM425 237h1v1h-1zM404 238h1v1h-1zM425 238h1v1h-1zM403 239h1v1h-1zM426 239h1v1h-1zM403 240h1v1h-1zM426 240h1v1h-1zM403 241h1v1h-1zM426 241h1v1h-1zM403 242h1v1h-1zM426 242h1v1h-1zM403 243h1v1h-1zM426 243h1v1h-1zM402 244h1v1h-1zM426 244h1v1h-1zM402 245h1v1h-1zM427 245h1v1h-1zM402 246h1v1h-1zM427 246h1v1h-1zM402 247h1v1h-1zM427 247h1v1h-1zM402 248h1v1h-1zM427 248h1v1h-1zM402 249h1v1h-1zM427 249h1v1h-1zM402 250h1v1h-1zM428 250h1v1h-1zM402 251h1v1h-1zM428 251h1v1h-1zM401 252h1v1h-1zM428 252h1v1h-1zM401 253h1v1h-1zM429 253h1v1h-1zM401 254h1v1h-1zM429 254h1v1h-1zM401 255h1v1h-1zM429 255h1v1h-1zM401 256h1v1h-1zM430 256h1v1h-1zM401 257h1v1h-1zM430 257h2v1h-2zM401 258h1v1h-1zM432 258h2v1h-2zM400 259h1v1h-1zM433 259h1v1h-1zM400 260h1v1h-1zM434 260h1v1h-1zM400 261h1v1h-1zM434 261h1v1h-1zM400 262h1v1h-1zM434 262h1v1h-1zM396 263h1v1h-1zM399 263h1v1h-1zM434 263h1v1h-1zM396 264h2v1h-2zM399 264h1v1h-1zM435 264h1v1h-1zM396 265h1v1h-1zM398 265h1v1h-1zM435 265h1v1h-1zM396 266h1v1h-1zM435 266h1v1h-1zM396 267h1v1h-1zM435 267h1v1h-1zM395 268h1v1h-1zM436 268h1v1h-1zM395 269h1v1h-1zM436 269h1v1h-1zM395 270h1v1h-1zM436 270h1v1h-1zM395 271h1v1h-1zM436 271h1v1h-1zM395 272h1v1h-1zM437 272h1v1h-1zM395 273h1v1h-1zM437 273h1v1h-1zM395 274h1v1h-1zM437 274h1v1h-1zM394 275h1v1h-1zM437 275h1v1h-1zM394 276h1v1h-1zM437 276h1v1h-1zM394 277h1v1h-1zM438 277h1v1h-1zM393 278h2v1h-2zM438 278h1v1h-1zM392 279h1v1h-1zM438 279h1v1h-1zM392 280h1v1h-1zM438 280h1v1h-1zM392 281h1v1h-1zM439 281h1v1h-1zM391 282h1v1h-1zM439 282h1v1h-1zM391 283h1v1h-1zM439 283h1v1h-1zM391 284h1v1h-1zM439 284h1v1h-1zM391 285h1v1h-1zM440 285h1v1h-1zM390 286h1v1h-1zM440 286h1v1h-1zM390 287h1v1h-1zM440 287h1v1h-1zM390 288h1v1h-1zM441 288h1v1h-1zM390 289h1v1h-1zM441 289h1v1h-1zM389 290h1v1h-1zM442 290h1v1h-1zM389 291h1v1h-1zM442 291h1v1h-1zM389 292h1v1h-1zM442 292h1v1h-1zM389 293h1v1h-1zM442 293h1v1h-1zM389 294h1v1h-1zM442 294h1v1h-1zM388 295h1v1h-1zM443 295h1v1h-1zM388 296h1v1h-1zM443 296h1v1h-1zM388 297h1v1h-1zM443 297h1v1h-1zM388 298h1v1h-1zM443 298h1v1h-1zM387 299h1v1h-1zM443 299h1v1h-1zM387 300h1v1h-1zM443 300h1v1h-1zM387 301h1v1h-1zM443 301h1v1h-1zM385 302h3v1h-3zM443 302h1v1h-1zM385 303h1v1h-1zM444 303h1v1h-1zM385 304h1v1h-1zM444 304h1v1h-1zM384 305h1v1h-1zM444 305h1v1h-1zM384 306h1v1h-1zM444 306h1v1h-1zM384 307h1v1h-1zM444 307h1v1h-1zM384 308h1v1h-1zM445 308h1v1h-1zM383 309h1v1h-1zM445 309h1v1h-1zM383 310h1v1h-1zM445 310h1v1h-1zM383 311h1v1h-1zM445 311h1v1h-1zM383 312h1v1h-1zM446 312h1v1h-1zM383 313h1v1h-1zM446 313h1v1h-1zM382 314h1v1h-1zM446 314h1v1h-1zM382 315h1v1h-1zM447 315h1v1h-1zM382 316h1v1h-1zM447 316h1v1h-1zM382 317h1v1h-1zM447 317h1v1h-1zM381 318h1v1h-1zM447 318h1v1h-1zM381 319h1v1h-1zM448 319h1v1h-1zM381 320h1v1h-1zM448 320h1v1h-1zM381 321h1v1h-1zM448 321h1v1h-1zM381 322h1v1h-1zM448 322h1v1h-1zM381 323h1v1h-1zM449 323h1v1h-1zM381 324h1v1h-1zM449 324h1v1h-1zM381 325h1v1h-1zM450 325h1v1h-1zM380 326h1v1h-1zM450 326h1v1h-1zM380 327h1v1h-1zM451 327h1v1h-1zM380 328h1v1h-1zM451 328h1v1h-1zM380 329h1v1h-1zM451 329h1v1h-1zM380 330h1v1h-1zM451 330h1v1h-1zM380 331h1v1h-1zM452 331h1v1h-1zM379 332h1v1h-1zM452 332h1v1h-1zM379 333h1v1h-1zM452 333h1v1h-1zM378 334h1v1h-1zM452 334h1v1h-1zM378 335h1v1h-1zM453 335h1v1h-1zM378 336h1v1h-1zM453 336h1v1h-1zM377 337h1v1h-1zM453 337h1v1h-1zM377 338h1v1h-1zM453 338h1v1h-1zM377 339h1v1h-1zM453 339h1v1h-1zM377 340h1v1h-1zM453 340h1v1h-1zM376 341h1v1h-1zM453 341h1v1h-1zM376 342h1v1h-1zM454 342h1v1h-1zM376 343h1v1h-1zM454 343h1v1h-1zM375 344h1v1h-1zM454 344h1v1h-1zM375 345h1v1h-1zM454 345h1v1h-1zM374 346h1v1h-1zM455 346h1v1h-1zM374 347h1v1h-1zM455 347h1v1h-1zM373 348h1v1h-1zM455 348h1v1h-1zM373 349h1v1h-1zM456 349h1v1h-1zM372 350h1v1h-1zM456 350h1v1h-1zM372 351h1v1h-1zM456 351h1v1h-1zM371 352h1v1h-1zM456 352h1v1h-1zM370 353h1v1h-1zM457 353h1v1h-1zM369 354h1v1h-1zM457 354h1v1h-1zM369 355h1v1h-1zM458 355h1v1h-1zM369 356h1v1h-1zM458 356h1v1h-1zM369 357h1v1h-1zM459 357h1v1h-1zM368 358h1v1h-1zM459 358h1v1h-1zM368 359h1v1h-1zM460 359h1v1h-1zM368 360h1v1h-1zM460 360h1v1h-1zM368 361h1v1h-1zM461 361h1v1h-1zM368 362h1v1h-1zM461 362h1v1h-1zM368 363h1v1h-1zM462 363h1v1h-1zM368 364h1v1h-1zM462 364h1v1h-1zM367 365h1v1h-1zM463 365h1v1h-1zM366 366h2v1h-2zM463 366h1v1h-1zM365 367h1v1h-1zM367 367h1v1h-1zM464 367h1v1h-1zM365 368h1v1h-1zM464 368h1v1h-1zM364 369h1v1h-1zM464 369h1v1h-1zM364 370h1v1h-1zM464 370h1v1h-1zM363 371h1v1h-1zM464 371h1v1h-1zM363 372h1v1h-1zM464 372h1v1h-1zM362 373h1v1h-1zM465 373h1v1h-1zM362 374h1v1h-1zM465 374h1v1h-1zM361 375h1v1h-1zM465 375h1v1h-1zM361 376h1v1h-1zM465 376h1v1h-1zM360 377h1v1h-1zM465 377h1v1h-1zM360 378h1v1h-1zM465 378h4v1h-4zM360 379h1v1h-1zM468 379h1v1h-1zM359 380h1v1h-1zM468 380h1v1h-1zM359 381h1v1h-1zM469 381h1v1h-1zM359 382h1v1h-1zM469 382h1v1h-1zM358 383h1v1h-1zM469 383h1v1h-1zM358 384h1v1h-1zM469 384h1v1h-1zM358 385h1v1h-1zM470 385h1v1h-1zM357 386h1v1h-1zM470 386h1v1h-1zM357 387h1v1h-1zM470 387h6v1h-6zM356 388h1v1h-1zM475 388h1v1h-1zM355 389h1v1h-1zM475 389h1v1h-1zM353 390h2v1h-2zM476 390h1v1h-1zM351 391h2v1h-2zM476 391h1v1h-1zM349 392h2v1h-2zM476 392h1v1h-1zM349 393h1v1h-1zM476 393h1v1h-1zM348 394h1v1h-1zM476 394h1v1h-1zM345 395h1v1h-1zM348 395h1v1h-1zM476 395h1v1h-1zM345 396h3v1h-3zM477 396h1v1h-1zM344 397h1v1h-1zM347 397h1v1h-1zM477 397h1v1h-1zM341 398h1v1h-1zM344 398h1v1h-1zM477 398h1v1h-1zM340 399h1v1h-1zM342 399h2v1h-2zM478 399h1v1h-1zM340 400h1v1h-1zM343 400h1v1h-1zM479 400h1v1h-1zM483 400h1v1h-1zM340 401h1v1h-1zM479 401h4v1h-4zM484 401h1v1h-1zM339 402h1v1h-1zM484 402h1v1h-1zM335 403h1v1h-1zM339 403h1v1h-1zM484 403h1v1h-1zM334 404h1v1h-1zM336 404h4v1h-4zM485 404h1v1h-1zM333 405h1v1h-1zM486 405h1v1h-1zM328 406h5v1h-5zM486 406h1v1h-1zM327 407h1v1h-1zM487 407h1v1h-1zM326 408h1v1h-1zM487 408h3v1h-3zM325 409h1v1h-1zM490 409h1v1h-1zM322 410h3v1h-3zM491 410h4v1h-4zM320 411h2v1h-2zM495 411h1v1h-1zM317 412h3v1h-3zM496 412h1v1h-1zM317 413h1v1h-1zM496 413h3v1h-3zM310 414h4v1h-4zM316 414h1v1h-1zM499 414h1v1h-1zM306 415h1v1h-1zM309 415h1v1h-1zM314 415h2v1h-2zM500 415h5v1h-5zM300 416h6v1h-6zM307 416h2v1h-2zM505 416h4v1h-4zM298 417h2v1h-2zM509 417h3v1h-3zM289 418h9v1h-9zM512 418h4v1h-4zM518 418h1v1h-1zM270 419h19v1h-19zM516 419h2v1h-2zM519 419h12v1h-12z"/>
<rect x="190" y="418" width="1" height="1" fill="#0000ff"/><rect x="214" y="418" width="1" height="1" fill="#0000ff"/><rect x="275" y="418" width="1" height="1" fill="#ff0000"/><rect x="282" y="418" width="1" height="1" fill="#ff0000"/>
</g>
<g fill="#000" shape-rendering="crispEdges">
<rect x="0" y="0" width="1" height="458"/>
<rect x="0" y="0" width="608" height="1"/>
<rect x="0" y="457" width="608" height="1"/>
<rect x="41" y="19" width="559" height="1"/>
<rect x="41" y="19" width="1" height="407"/>
<rect x="599" y="19" width="1" height="407"/>
<rect x="35" y="419" width="565" height="1"/>
<rect x="35" y="419" width="7" height="1"/>
<rect x="37" y="400" width="5" height="1"/>
<rect x="37" y="381" width="5" height="1"/>
<rect x="37" y="361" width="5" height="1"/>
<rect x="37" y="342" width="5" height="1"/>
<rect x="35" y="323" width="7" height="1"/>
<rect x="37" y="304" width="5" height="1"/>
<rect x="37" y="285" width="5" height="1"/>
<rect x="37" y="265" width="5" height="1"/>
<rect x="37" y="246" width="5" height="1"/>
<rect x="35" y="227" width="7" height="1"/>
<rect x="37" y="208" width="5" height="1"/>
<rect x="37" y="188" width="5" height="1"/>
<rect x="37" y="169" width="5" height="1"/>
<rect x="37" y="150" width="5" height="1"/>
<rect x="35" y="131" width="7" height="1"/>
<rect x="37" y="112" width="5" height="1"/>
<rect x="37" y="92" width="5" height="1"/>
<rect x="37" y="73" width="5" height="1"/>
<rect x="37" y="54" width="5" height="1"/>
<rect x="35" y="35" width="7" height="1"/>
<rect x="52" y="419" width="1" height="5"/>
<rect x="76" y="419" width="1" height="5"/>
<rect x="94" y="419" width="1" height="5"/>
<rect x="107" y="419" width="1" height="5"/>
<rect x="118" y="419" width="1" height="5"/>
<rect x="128" y="419" width="1" height="5"/>
<rect x="136" y="419" width="1" height="5"/>
<rect x="143" y="419" width="1" height="5"/>
<rect x="149" y="419" width="1" height="7"/>
<rect x="191" y="419" width="1" height="5"/>
<rect x="216" y="419" width="1" height="5"/>
<rect x="233" y="419" width="1" height="5"/>
<rect x="247" y="419" width="1" height="5"/>
<rect x="258" y="419" width="1" height="5"/>
<rect x="267" y="419" width="1" height="5"/>
<rect x="275" y="419" width="1" height="5"/>
<rect x="282" y="419" width="1" height="5"/>
<rect x="289" y="419" width="1" height="7"/>
<rect x="331" y="419" width="1" height="5"/>
<rect x="355" y="419" width="1" height="5"/>
<rect x="373" y="419" width="1" height="5"/>
<rect x="386" y="419" width="1" height="5"/>
<rect x="397" y="419" width="1" height="5"/>
<rect x="407" y="419" width="1" height="5"/>
<rect x="415" y="419" width="1" height="5"/>
<rect x="422" y="419" width="1" height="5"/>
<rect x="428" y="419" width="1" height="7"/>
<rect x="470" y="419" width="1" height="5"/>
<rect x="495" y="419" width="1" height="5"/>
<rect x="512" y="419" width="1" height="5"/>
<rect x="526" y="419" width="1" height="5"/>
<rect x="537" y="419" width="1" height="5"/>
<rect x="546" y="419" width="1" height="5"/>
<rect x="554" y="419" width="1" height="5"/>
<rect x="561" y="419" width="1" height="5"/>
<rect x="568" y="419" width="1" height="7"/>
</g>
<path fill="#000" shape-rendering="crispEdges" d="M265 5h1v1h-1zM271 5h1v1h-1zM281 5h1v1h-1zM284 5h1v1h-1zM287 5h1v1h-1zM326 5h1v1h-1zM345 5h5v1h-5zM355 5h1v1h-1zM265 6h2v1h-2zM270 6h2v1h-2zM281 6h1v1h-1zM284 6h1v1h-1zM326 6h1v1h-1zM345 6h1v1h-1zM350 6h1v1h-1zM354 6h2v1h-2zM265 7h2v1h-2zM270 7h2v1h-2zM274 7h1v1h-1zM278 7h1v1h-1zM281 7h1v1h-1zM283 7h3v1h-3zM287 7h1v1h-1zM295 7h3v1h-3zM302 7h3v1h-3zM308 7h1v1h-1zM310 7h2v1h-2zM314 7h2v1h-2zM319 7h1v1h-1zM321 7h2v1h-2zM326 7h1v1h-1zM330 7h3v1h-3zM339 7h1v1h-1zM345 7h1v1h-1zM350 7h1v1h-1zM353 7h1v1h-1zM355 7h1v1h-1zM265 8h1v1h-1zM267 8h1v1h-1zM269 8h1v1h-1zM271 8h1v1h-1zM274 8h1v1h-1zM278 8h1v1h-1zM281 8h1v1h-1zM284 8h1v1h-1zM287 8h1v1h-1zM294 8h1v1h-1zM298 8h1v1h-1zM301 8h1v1h-1zM305 8h1v1h-1zM308 8h2v1h-2zM312 8h2v1h-2zM316 8h1v1h-1zM319 8h2v1h-2zM323 8h1v1h-1zM326 8h1v1h-1zM329 8h1v1h-1zM333 8h1v1h-1zM345 8h1v1h-1zM350 8h1v1h-1zM355 8h1v1h-1zM265 9h1v1h-1zM267 9h1v1h-1zM269 9h1v1h-1zM271 9h1v1h-1zM274 9h1v1h-1zM278 9h1v1h-1zM281 9h1v1h-1zM284 9h1v1h-1zM287 9h1v1h-1zM294 9h1v1h-1zM305 9h1v1h-1zM308 9h1v1h-1zM312 9h1v1h-1zM316 9h1v1h-1zM319 9h1v1h-1zM323 9h1v1h-1zM326 9h1v1h-1zM329 9h1v1h-1zM333 9h1v1h-1zM345 9h5v1h-5zM355 9h1v1h-1zM265 10h1v1h-1zM267 10h1v1h-1zM269 10h1v1h-1zM271 10h1v1h-1zM274 10h1v1h-1zM278 10h1v1h-1zM281 10h1v1h-1zM284 10h1v1h-1zM287 10h1v1h-1zM289 10h3v1h-3zM295 10h3v1h-3zM302 10h4v1h-4zM308 10h1v1h-1zM312 10h1v1h-1zM316 10h1v1h-1zM319 10h1v1h-1zM323 10h1v1h-1zM326 10h1v1h-1zM329 10h5v1h-5zM345 10h1v1h-1zM355 10h1v1h-1zM265 11h1v1h-1zM267 11h1v1h-1zM269 11h1v1h-1zM271 11h1v1h-1zM274 11h1v1h-1zM278 11h1v1h-1zM281 11h1v1h-1zM284 11h1v1h-1zM287 11h1v1h-1zM298 11h1v1h-1zM301 11h1v1h-1zM305 11h1v1h-1zM308 11h1v1h-1zM312 11h1v1h-1zM316 11h1v1h-1zM319 11h1v1h-1zM323 11h1v1h-1zM326 11h1v1h-1zM329 11h1v1h-1zM345 11h1v1h-1zM355 11h1v1h-1zM265 12h1v1h-1zM268 12h1v1h-1zM271 12h1v1h-1zM274 12h1v1h-1zM278 12h1v1h-1zM281 12h1v1h-1zM284 12h1v1h-1zM287 12h1v1h-1zM294 12h1v1h-1zM298 12h1v1h-1zM301 12h1v1h-1zM304 12h2v1h-2zM308 12h1v1h-1zM312 12h1v1h-1zM316 12h1v1h-1zM319 12h2v1h-2zM323 12h1v1h-1zM326 12h1v1h-1zM329 12h1v1h-1zM333 12h1v1h-1zM345 12h1v1h-1zM355 12h1v1h-1zM265 13h1v1h-1zM268 13h1v1h-1zM271 13h1v1h-1zM275 13h4v1h-4zM281 13h1v1h-1zM284 13h2v1h-2zM287 13h1v1h-1zM295 13h3v1h-3zM302 13h2v1h-2zM305 13h1v1h-1zM308 13h1v1h-1zM312 13h1v1h-1zM316 13h1v1h-1zM319 13h1v1h-1zM321 13h2v1h-2zM326 13h1v1h-1zM330 13h3v1h-3zM339 13h1v1h-1zM345 13h1v1h-1zM355 13h1v1h-1zM319 14h1v1h-1zM319 15h1v1h-1zM8 18h5v1h-5zM6 19h2v1h-2zM13 19h2v1h-2zM5 20h1v1h-1zM15 20h1v1h-1zM2 24h7v1h-7zM3 25h1v1h-1zM22 26h7v1h-7zM21 27h1v1h-1zM29 27h1v1h-1zM21 28h1v1h-1zM29 28h1v1h-1zM6 29h7v1h-7zM21 29h1v1h-1zM29 29h1v1h-1zM5 30h1v1h-1zM13 30h1v1h-1zM22 30h7v1h-7zM5 31h1v1h-1zM13 31h1v1h-1zM5 32h1v1h-1zM13 32h1v1h-1zM22 32h7v1h-7zM6 33h7v1h-7zM21 33h1v1h-1zM29 33h1v1h-1zM21 34h1v1h-1zM29 34h1v1h-1zM21 35h1v1h-1zM29 35h1v1h-1zM22 36h7v1h-7zM5 38h9v1h-9zM6 39h1v1h-1zM22 39h3v1h-3zM29 39h1v1h-1zM7 40h1v1h-1zM21 40h1v1h-1zM25 40h2v1h-2zM29 40h1v1h-1zM21 41h1v1h-1zM27 41h1v1h-1zM29 41h1v1h-1zM21 42h1v1h-1zM28 42h2v1h-2zM22 43h1v1h-1zM29 43h1v1h-1zM7 45h1v1h-1zM13 45h1v1h-1zM8 46h2v1h-2zM11 46h2v1h-2zM10 47h1v1h-1zM8 48h2v1h-2zM11 48h2v1h-2zM7 49h1v1h-1zM13 49h1v1h-1zM5 52h1v1h-1zM15 52h1v1h-1zM6 53h2v1h-2zM13 53h2v1h-2zM8 54h5v1h-5zM22 122h7v1h-7zM21 123h1v1h-1zM29 123h1v1h-1zM21 124h1v1h-1zM29 124h1v1h-1zM21 125h1v1h-1zM29 125h1v1h-1zM22 126h7v1h-7zM21 128h1v1h-1zM25 128h4v1h-4zM21 129h1v1h-1zM24 129h1v1h-1zM29 129h1v1h-1zM21 130h1v1h-1zM24 130h1v1h-1zM29 130h1v1h-1zM21 131h2v1h-2zM24 131h1v1h-1zM29 131h1v1h-1zM23 132h2v1h-2zM28 132h1v1h-1zM21 137h9v1h-9zM22 138h1v1h-1zM23 139h1v1h-1zM7 203h1v1h-1zM13 203h1v1h-1zM5 204h9v1h-9zM7 205h1v1h-1zM8 206h6v1h-6zM7 207h1v1h-1zM7 208h1v1h-1zM7 209h1v1h-1zM7 210h7v1h-7zM7 213h7v1h-7zM12 214h1v1h-1zM13 215h1v1h-1zM13 216h1v1h-1zM7 217h6v1h-6zM22 218h7v1h-7zM21 219h1v1h-1zM29 219h1v1h-1zM8 220h5v1h-5zM21 220h1v1h-1zM29 220h1v1h-1zM7 221h1v1h-1zM13 221h1v1h-1zM21 221h1v1h-1zM29 221h1v1h-1zM7 222h1v1h-1zM13 222h1v1h-1zM22 222h7v1h-7zM7 223h1v1h-1zM13 223h1v1h-1zM8 224h5v1h-5zM22 224h7v1h-7zM21 225h1v1h-1zM29 225h1v1h-1zM21 226h1v1h-1zM29 226h1v1h-1zM7 227h1v1h-1zM11 227h1v1h-1zM21 227h1v1h-1zM29 227h1v1h-1zM6 228h1v1h-1zM12 228h1v1h-1zM22 228h7v1h-7zM5 229h1v1h-1zM13 229h1v1h-1zM5 230h1v1h-1zM13 230h1v1h-1zM5 231h1v1h-1zM13 231h1v1h-1zM6 232h1v1h-1zM12 232h1v1h-1zM7 233h5v1h-5zM21 233h9v1h-9zM22 234h1v1h-1zM23 235h1v1h-1zM22 318h7v1h-7zM21 319h1v1h-1zM29 319h1v1h-1zM21 320h1v1h-1zM29 320h1v1h-1zM21 321h1v1h-1zM29 321h1v1h-1zM22 322h7v1h-7zM21 324h1v1h-1zM25 324h4v1h-4zM21 325h1v1h-1zM24 325h1v1h-1zM29 325h1v1h-1zM21 326h1v1h-1zM24 326h1v1h-1zM29 326h1v1h-1zM21 327h2v1h-2zM24 327h1v1h-1zM29 327h1v1h-1zM23 328h2v1h-2zM28 328h1v1h-1zM22 416h7v1h-7zM21 417h1v1h-1zM29 417h1v1h-1zM21 418h1v1h-1zM29 418h1v1h-1zM21 419h1v1h-1zM29 419h1v1h-1zM22 420h7v1h-7zM158 428h1v1h-1zM295 428h3v1h-3zM435 428h2v1h-2zM573 428h4v1h-4zM157 429h2v1h-2zM294 429h1v1h-1zM434 429h1v1h-1zM437 429h1v1h-1zM576 429h1v1h-1zM156 430h1v1h-1zM158 430h1v1h-1zM294 430h3v1h-3zM434 430h3v1h-3zM575 430h1v1h-1zM144 431h1v1h-1zM150 431h3v1h-3zM155 431h1v1h-1zM158 431h1v1h-1zM284 431h1v1h-1zM290 431h3v1h-3zM297 431h1v1h-1zM423 431h1v1h-1zM429 431h3v1h-3zM434 431h1v1h-1zM437 431h1v1h-1zM563 431h1v1h-1zM569 431h3v1h-3zM575 431h1v1h-1zM143 432h2v1h-2zM149 432h1v1h-1zM153 432h1v1h-1zM155 432h5v1h-5zM283 432h2v1h-2zM289 432h1v1h-1zM293 432h1v1h-1zM297 432h1v1h-1zM422 432h2v1h-2zM428 432h1v1h-1zM432 432h1v1h-1zM434 432h1v1h-1zM437 432h1v1h-1zM562 432h2v1h-2zM568 432h1v1h-1zM572 432h1v1h-1zM574 432h1v1h-1zM142 433h1v1h-1zM144 433h1v1h-1zM149 433h1v1h-1zM153 433h1v1h-1zM158 433h1v1h-1zM282 433h1v1h-1zM284 433h1v1h-1zM289 433h1v1h-1zM293 433h2v1h-2zM297 433h1v1h-1zM421 433h1v1h-1zM423 433h1v1h-1zM428 433h1v1h-1zM432 433h1v1h-1zM434 433h1v1h-1zM437 433h1v1h-1zM561 433h1v1h-1zM563 433h1v1h-1zM568 433h1v1h-1zM572 433h1v1h-1zM574 433h1v1h-1zM144 434h1v1h-1zM149 434h1v1h-1zM153 434h1v1h-1zM158 434h1v1h-1zM284 434h1v1h-1zM289 434h1v1h-1zM293 434h1v1h-1zM295 434h2v1h-2zM423 434h1v1h-1zM428 434h1v1h-1zM432 434h1v1h-1zM435 434h2v1h-2zM563 434h1v1h-1zM568 434h1v1h-1zM572 434h1v1h-1zM574 434h1v1h-1zM144 435h1v1h-1zM149 435h1v1h-1zM153 435h1v1h-1zM284 435h1v1h-1zM289 435h1v1h-1zM293 435h1v1h-1zM423 435h1v1h-1zM428 435h1v1h-1zM432 435h1v1h-1zM563 435h1v1h-1zM568 435h1v1h-1zM572 435h1v1h-1zM144 436h1v1h-1zM149 436h1v1h-1zM153 436h1v1h-1zM284 436h1v1h-1zM289 436h1v1h-1zM293 436h1v1h-1zM423 436h1v1h-1zM428 436h1v1h-1zM432 436h1v1h-1zM563 436h1v1h-1zM568 436h1v1h-1zM572 436h1v1h-1zM144 437h1v1h-1zM149 437h1v1h-1zM153 437h1v1h-1zM284 437h1v1h-1zM289 437h1v1h-1zM293 437h1v1h-1zM423 437h1v1h-1zM428 437h1v1h-1zM432 437h1v1h-1zM563 437h1v1h-1zM568 437h1v1h-1zM572 437h1v1h-1zM144 438h1v1h-1zM149 438h1v1h-1zM153 438h1v1h-1zM284 438h1v1h-1zM289 438h1v1h-1zM293 438h1v1h-1zM423 438h1v1h-1zM428 438h1v1h-1zM432 438h1v1h-1zM563 438h1v1h-1zM568 438h1v1h-1zM572 438h1v1h-1zM144 439h1v1h-1zM150 439h3v1h-3zM284 439h1v1h-1zM290 439h3v1h-3zM423 439h1v1h-1zM429 439h3v1h-3zM563 439h1v1h-1zM569 439h3v1h-3zM303 446h5v1h-5zM310 446h1v1h-1zM312 446h7v1h-7zM322 446h3v1h-3zM335 446h1v1h-1zM303 447h1v1h-1zM310 447h1v1h-1zM315 447h1v1h-1zM321 447h1v1h-1zM325 447h1v1h-1zM334 447h1v1h-1zM336 447h1v1h-1zM303 448h1v1h-1zM310 448h1v1h-1zM315 448h1v1h-1zM320 448h1v1h-1zM326 448h1v1h-1zM334 448h1v1h-1zM336 448h1v1h-1zM303 449h1v1h-1zM310 449h1v1h-1zM315 449h1v1h-1zM320 449h1v1h-1zM334 449h1v1h-1zM336 449h1v1h-1zM303 450h4v1h-4zM310 450h1v1h-1zM315 450h1v1h-1zM320 450h1v1h-1zM333 450h1v1h-1zM337 450h1v1h-1zM303 451h1v1h-1zM310 451h1v1h-1zM315 451h1v1h-1zM320 451h1v1h-1zM328 451h3v1h-3zM333 451h5v1h-5zM303 452h1v1h-1zM310 452h1v1h-1zM315 452h1v1h-1zM320 452h1v1h-1zM326 452h1v1h-1zM333 452h1v1h-1zM337 452h1v1h-1zM303 453h1v1h-1zM310 453h1v1h-1zM315 453h1v1h-1zM321 453h1v1h-1zM325 453h1v1h-1zM332 453h1v1h-1zM338 453h1v1h-1zM303 454h1v1h-1zM310 454h1v1h-1zM315 454h1v1h-1zM322 454h3v1h-3zM332 454h1v1h-1zM338 454h1v1h-1z"/>
</svg>
</body></html>
